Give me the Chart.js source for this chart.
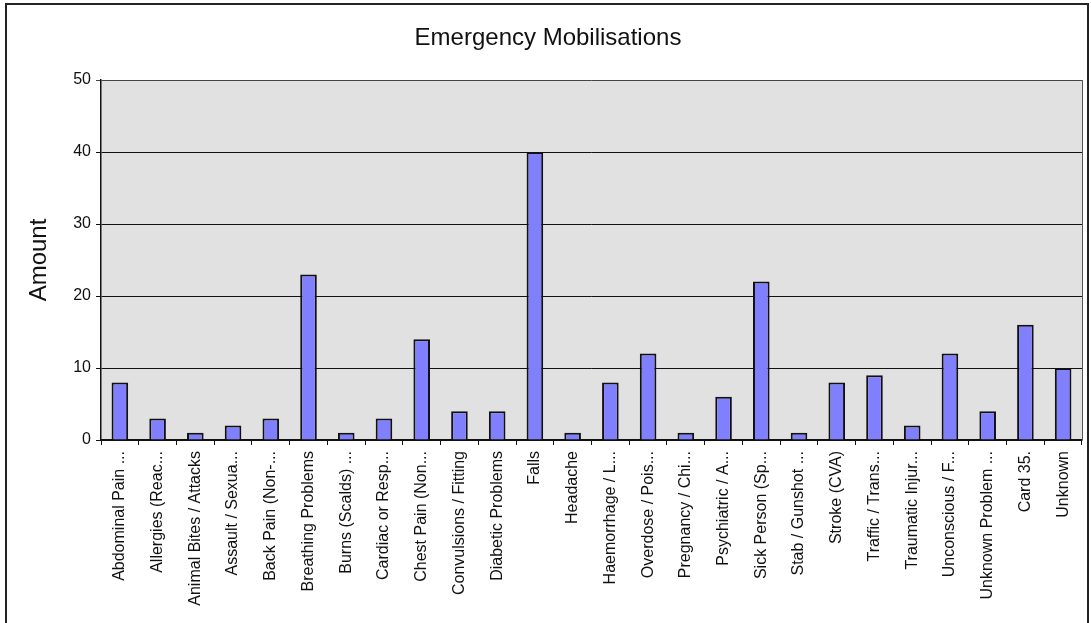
<!DOCTYPE html>
<html>
<head>
<meta charset="utf-8">
<script src="https://cdn.jsdelivr.net/npm/chart.js@4"></script>
<style>
  html, body { margin: 0; padding: 0; background: #fff; }
  #wrap { position: relative; width: 1091px; height: 623px; overflow: hidden; }
  #frame { position: absolute; left: 5px; top: 3px; width: 1084px; height: 640px; border: 2px solid #222; box-sizing: border-box; }
  #supplyChart { position: absolute; left: 0; top: 0; }
</style>
</head>
<body>
<div id="wrap">
  <div id="frame"></div>
  <canvas id="supplyChart" width="1091" height="623"></canvas>
</div>
<script>
const categories = [
    'Abdominal Pain ...', 'Allergies (Reac...', 'Animal Bites / Attacks', 'Assault / Sexua...',
    'Back Pain (Non-...', 'Breathing Problems', 'Burns (Scalds) ...', 'Cardiac or Resp...',
    'Chest Pain (Non...', 'Convulsions / Fitting', 'Diabetic Problems', 'Falls', 'Headache',
    'Haemorrhage / L...', 'Overdose / Pois...', 'Pregnancy / Chi...', 'Psychiatric / A...',
    'Sick Person (Sp...', 'Stab / Gunshot ...', 'Stroke (CVA)', 'Traffic / Trans...',
    'Traumatic Injur...', 'Unconscious / F...', 'Unknown Problem ...', 'Card 35.', 'Unknown'
];
const amounts = [8, 3, 1, 2, 3, 23, 1, 3, 14, 4, 4, 40, 1, 8, 12, 1, 6, 22, 1, 8, 9, 2, 12, 4, 16, 10];
const yTicks = [0, 10, 20, 30, 40, 50];

document.addEventListener('DOMContentLoaded', () => {
    const ctx = document.getElementById('supplyChart');
    const font = '"Liberation Sans", Arial, sans-serif';

    // Grey plot background and right border, like the old Excel style
    const plotBackground = {
        id: 'plotBackground',
        beforeDraw(chart) {
            const a = chart.chartArea;
            const c = chart.ctx;
            c.save();
            c.fillStyle = '#e1e1e1';
            c.fillRect(a.left, a.top, a.right - a.left, a.bottom - a.top);
            c.restore();
        },
        afterDatasetsDraw(chart) {
            const a = chart.chartArea;
            const c = chart.ctx;
            c.save();
            c.strokeStyle = '#555';
            c.lineWidth = 1;
            c.beginPath();
            c.moveTo(a.right + 0.5, a.top);
            c.lineTo(a.right + 0.5, a.bottom);
            c.stroke();
            c.restore();
        }
    };

    new Chart(ctx, {
        type: 'bar',
        data: {
            labels: categories,
            datasets: [{
                data: amounts,
                backgroundColor: '#8080ff',
                borderColor: '#111',
                borderWidth: 2,
                barPercentage: 0.44,
                categoryPercentage: 1.0
            }]
        },
        plugins: [plotBackground],
        options: {
            responsive: false,
            animation: false,
            layout: { padding: { left: 14, right: 9, top: 0, bottom: 0 } },
            plugins: {
                legend: { display: false },
                tooltip: { enabled: false },
                title: {
                    display: true,
                    text: 'Emergency Mobilisations',
                    color: '#111',
                    font: { family: font, size: 24, weight: 'normal' },
                    padding: { top: 24, bottom: 27.2 }
                }
            },
            scales: {
                y: {
                    min: 0,
                    max: 50,
                    afterBuildTicks: (scale) => { scale.ticks = yTicks.map(v => ({ value: v })); },
                    afterFit: (scale) => { scale.width = 87; },
                    title: {
                        display: true,
                        text: 'Amount',
                        color: '#111',
                        font: { family: font, size: 24 },
                        padding: { top: 11, bottom: 0 }
                    },
                    ticks: {
                        color: '#111',
                        padding: 5,
                        font: { family: font, size: 16 }
                    },
                    grid: {
                        color: (c) => c.tick && c.tick.value === 50 ? '#444' : '#111',
                        lineWidth: 1,
                        tickLength: 5
                    },
                    border: { color: '#111', width: 1.5 }
                },
                x: {
                    afterFit: (scale) => { scale.height = 183; },
                    ticks: {
                        color: '#111',
                        autoSkip: false,
                        maxRotation: 90,
                        minRotation: 90,
                        padding: 6,
                        font: { family: font, size: 16 }
                    },
                    grid: {
                        offset: true,
                        drawOnChartArea: false,
                        color: '#111',
                        tickLength: 5
                    },
                    border: { color: '#111', width: 1.5 }
                }
            }
        }
    });
});
</script>
</body>
</html>
